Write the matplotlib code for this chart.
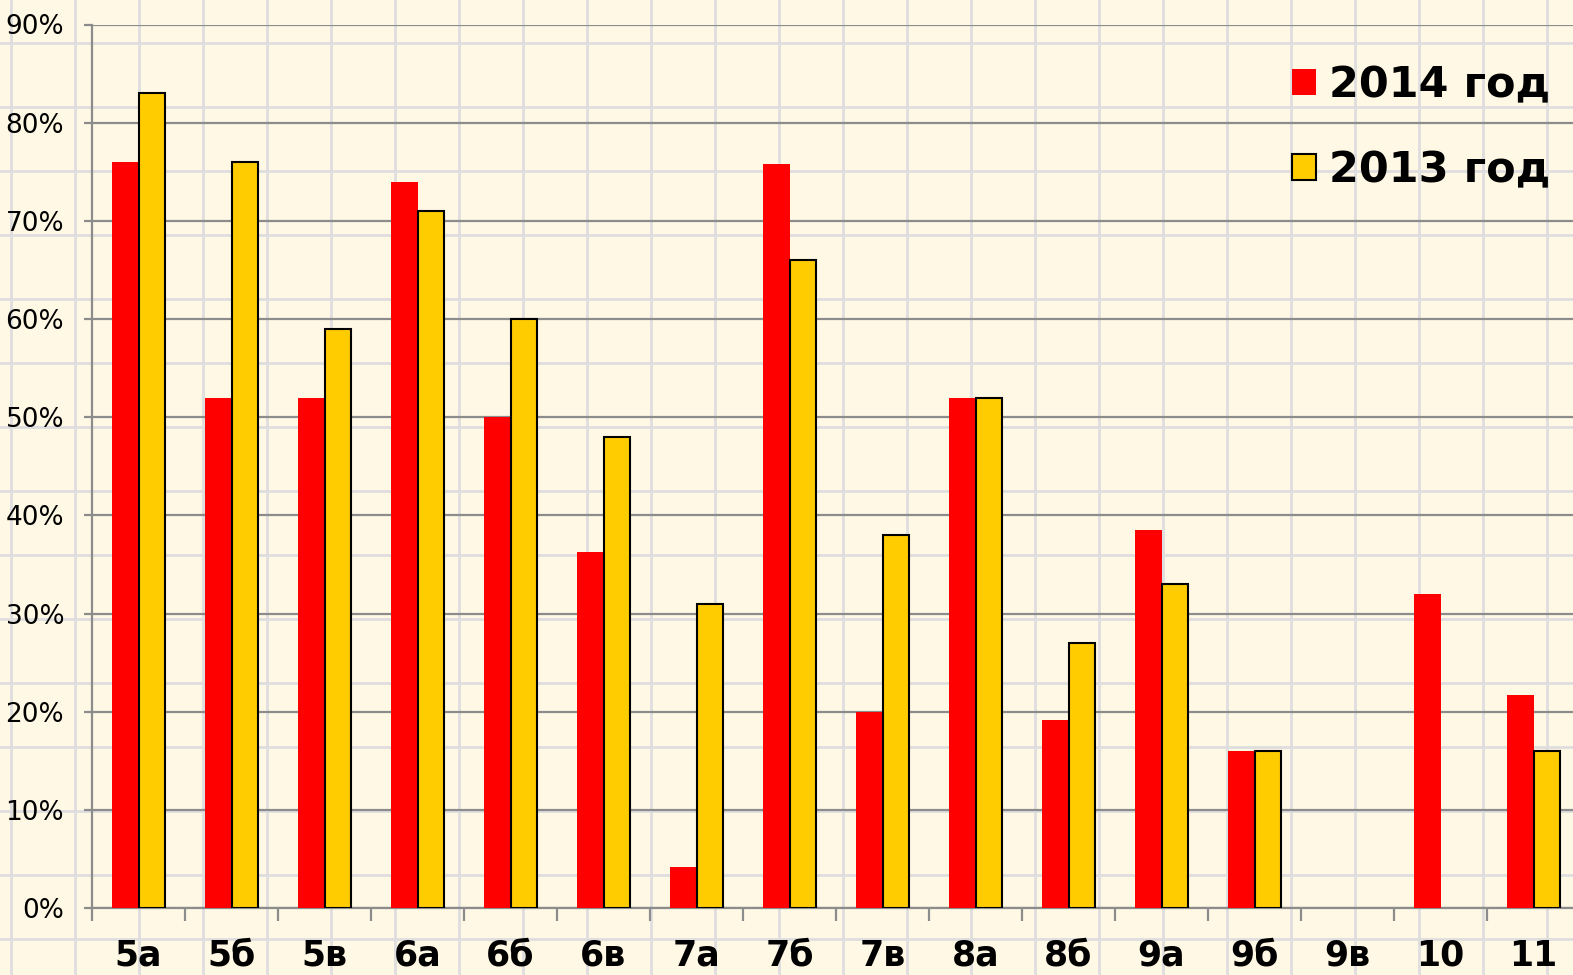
import numpy as np
import matplotlib.pyplot as plt
from matplotlib.lines import Line2D

# Data
classes = ['5а', '5б', '5в', '6а', '6б', '6в', '7а', '7б', '7в', '8а', '8б', '9а', '9б', '9в', '10', '11']
y2014 = [76, 52, 52, 74, 50, 36.3, 4.2, 75.8, 20, 52, 19.2, 38.5, 16, 0, 32, 21.7]
y2013 = [83, 76, 59, 71, 60, 48, 31, 66, 38, 52, 27, 33, 16, 0, 0, 16]
yticks = list(range(0, 91, 10))

W, H = 1573, 975
bg = '#FFF8E4'
fig = plt.figure(figsize=(W / 100, H / 100), dpi=100, facecolor=bg)

# grid-paper background
for px in range(11, W, 64):
    fig.add_artist(Line2D([px / W, px / W], [0, 1], color='#DEDEDE', lw=2, zorder=0))
for py in range(43, H, 64):
    fig.add_artist(Line2D([0, 1], [1 - py / H, 1 - py / H], color='#DEDEDE', lw=2, zorder=0))

ax = fig.add_axes([92 / W, (H - 908) / H, (1580 - 92) / W, (908 - 24.5) / H])
ax.set_facecolor('none')

x = np.arange(len(classes))
w = 0.285
ax.bar(x - w / 2, y2014, width=w, color='#FF0000', edgecolor='none', label='2014 год', zorder=3)
b13 = [v if v > 0 else np.nan for v in y2013]
ax.bar(x + w / 2, b13, width=w, color='#FFCC00', edgecolor='black', linewidth=1.5,
       label='2013 год', zorder=3)

ax.set_xlim(-0.5, len(classes) - 0.5)
ax.set_ylim(0, 90)
ax.set_yticks(yticks)
ax.set_yticklabels([f'{v}%' for v in yticks], fontsize=19)
ax.yaxis.grid(True, color='#8C8C8C', lw=1.6, zorder=1)
ax.set_axisbelow(True)

ax.set_xticks(np.arange(len(classes) + 1) - 0.5)
ax.set_xticklabels([])
ax.set_xticks(x, minor=True)
ax.set_xticklabels(classes, minor=True, fontsize=25, fontweight='bold')
ax.tick_params(axis='x', which='major', length=9, width=1.6, color='#8C8C8C', direction='out')
ax.tick_params(axis='x', which='minor', length=0, pad=22)
ax.tick_params(axis='y', length=6, width=1.6, color='#8C8C8C', pad=14)

for s in ['top', 'right']:
    ax.spines[s].set_visible(False)
for s in ['left', 'bottom']:
    ax.spines[s].set_color('#8C8C8C')
    ax.spines[s].set_linewidth(1.6)

ax.legend(loc='upper right', bbox_to_anchor=(1567 / W, 1 - 47 / H), bbox_transform=fig.transFigure,
          frameon=False, prop={'size': 31, 'weight': 'bold'}, handlelength=0.55, handleheight=0.55,
          handletextpad=0.3, labelspacing=1.0, borderaxespad=0)

fig.savefig('out.png', dpi=100, facecolor=bg)
